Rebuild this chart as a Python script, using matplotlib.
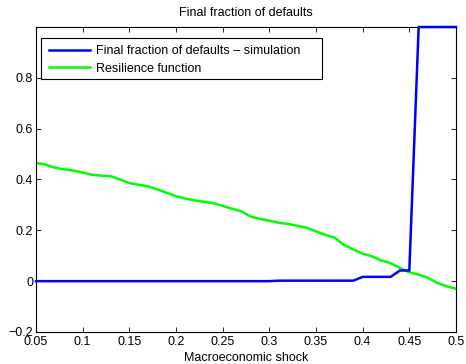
import matplotlib
matplotlib.use("Agg")
import matplotlib.pyplot as plt
from matplotlib.patches import Rectangle

plt.rcParams['font.family'] = ['Liberation Sans', 'DejaVu Sans']

shock = [0.05, 0.06, 0.07, 0.08, 0.09, 0.10, 0.11, 0.12, 0.13, 0.14,
         0.15, 0.16, 0.17, 0.18, 0.19, 0.20, 0.21, 0.22, 0.23, 0.24,
         0.25, 0.26, 0.27, 0.28, 0.29, 0.30, 0.31, 0.32, 0.33, 0.34,
         0.35, 0.36, 0.37, 0.38, 0.39, 0.40, 0.41, 0.42, 0.43, 0.44,
         0.45, 0.46, 0.47, 0.48, 0.49, 0.50]

simulation = [0, 0, 0, 0, 0, 0, 0, 0, 0, 0,
              0, 0, 0, 0, 0, 0, 0, 0, 0, 0,
              0, 0, 0, 0, 0, 0, 0.002, 0.002, 0.002, 0.002,
              0.002, 0.002, 0.002, 0.002, 0.002, 0.017, 0.017, 0.017, 0.017, 0.042,
              0.042, 1.0, 1.0, 1.0, 1.0, 1.0]

resilience = [0.465, 0.459, 0.447, 0.440, 0.435, 0.427, 0.419, 0.415, 0.413, 0.400,
              0.386, 0.379, 0.373, 0.361, 0.348, 0.334, 0.325, 0.318, 0.312, 0.307,
              0.296, 0.285, 0.275, 0.254, 0.245, 0.238, 0.230, 0.225, 0.218, 0.210,
              0.196, 0.182, 0.171, 0.142, 0.125, 0.108, 0.098, 0.081, 0.071, 0.052,
              0.035, 0.026, 0.013, -0.007, -0.020, -0.030]

xticks = [0.05, 0.1, 0.15, 0.2, 0.25, 0.3, 0.35, 0.4, 0.45, 0.5]
xticklabels = ['0.05', '0.1', '0.15', '0.2', '0.25', '0.3', '0.35', '0.4', '0.45', '0.5']
yticks = [-0.2, 0, 0.2, 0.4, 0.6, 0.8]
yticklabels = ['\u22120.2', '0', '0.2', '0.4', '0.6', '0.8']

W, H = 466, 364
AX_L, AX_B, AX_W, AX_H = 36, 32, 420, 305

fig = plt.figure(figsize=(W / 100, H / 100), dpi=100)
ax = fig.add_axes([AX_L / W, AX_B / H, AX_W / W, AX_H / H])

ax.plot(shock, simulation, color='#0000ff', lw=1.8, clip_on=False, zorder=3,
        label='Final fraction of defaults \u2013 simulation')
ax.plot(shock, resilience, color='#00ff00', lw=1.8, label='Resilience function')

ax.set_xlim(0.05, 0.5)
ax.set_ylim(-0.2, 1.0)
ax.set_xticks(xticks)
ax.set_xticklabels(xticklabels)
ax.set_yticks(yticks)
ax.set_yticklabels(yticklabels)
ax.tick_params(direction='in', top=True, right=True, labelsize=9, length=3.5, width=0.6)
ax.tick_params(axis='x', pad=3)
ax.tick_params(axis='y', pad=2)
for s in ax.spines.values():
    s.set_linewidth(0.8)

ax.set_title('Final fraction of defaults', fontsize=9, pad=8)
ax.set_xlabel('Macroeconomic shock', fontsize=9, labelpad=3)


def px_to_axes(px, py):
    # px, py in figure pixels from the top-left corner
    return (px - AX_L) / AX_W, ((H - py) - AX_B) / AX_H


# legend frame (drawn manually to match the wider MATLAB-style box)
x0, y0 = px_to_axes(41, 79)
x1, y1 = px_to_axes(322, 38)
ax.add_patch(Rectangle((x0, y0), x1 - x0, y1 - y0, transform=ax.transAxes,
                       facecolor='white', edgecolor='black', lw=0.8, zorder=4))

ax_x, ax_y = px_to_axes(49, 45)
leg = ax.legend(loc='upper left', bbox_to_anchor=(ax_x, ax_y), fontsize=9,
                frameon=False, borderaxespad=0, borderpad=0, handlelength=3.3,
                labelspacing=0.45, handletextpad=0.5)
leg.set_zorder(5)

fig.savefig('out.png', dpi=100)
